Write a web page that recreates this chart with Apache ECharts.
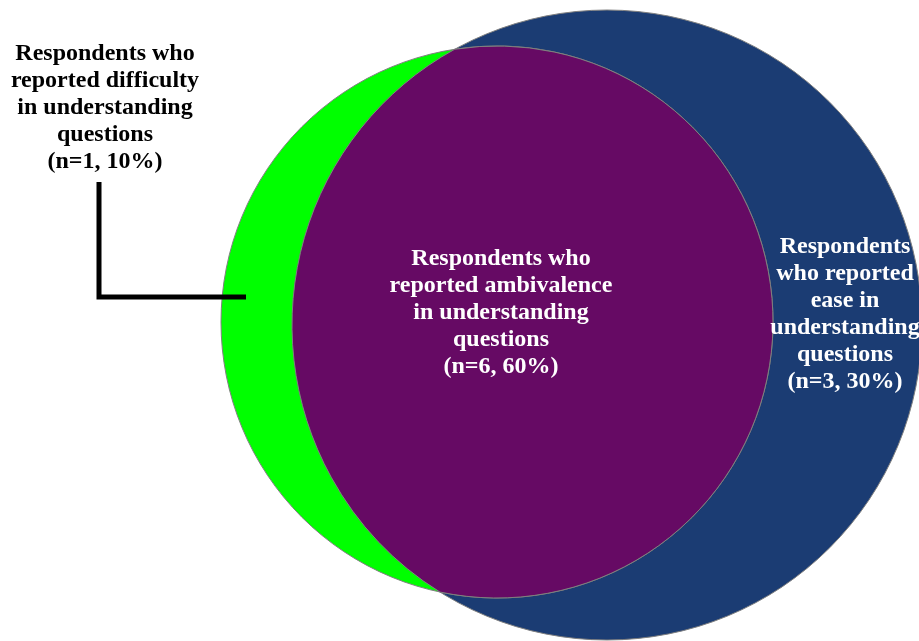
<!DOCTYPE html>
<html>
<head>
<meta charset="utf-8">
<script src="https://cdn.jsdelivr.net/npm/echarts@6/dist/echarts.min.js"></script>
<style>
  html, body { margin: 0; padding: 0; background: #ffffff; }
  #chart { width: 919px; height: 641px; }
</style>
</head>
<body>
<div id="chart"></div>
<script>
// Respondent groups: difficulty only, ambivalence (overlap), ease only
const groups = ['difficulty', 'ambivalence', 'ease'];
const counts = [1, 6, 3];
const shares = [10, 60, 30];
const labelLines = [
  ['Respondents who', 'reported difficulty', 'in understanding', 'questions'],
  ['Respondents who', 'reported ambivalence', 'in understanding', 'questions'],
  ['Respondents', 'who reported', 'ease in', 'understanding', 'questions']
];

// Diagram geometry in axis units (x: 0..919, y: 0..641, y downwards)
const layout = {
  difficultyCircle: { cx: 497, cy: 322, r: 276 },
  easeCircle: { cx: 607, cy: 325, r: 315 },
  labelAnchors: [[105, 108], [501, 313], [845, 314]],
  leader: [[99, 182], [99, 297], [246, 297]]
};

const colors = {
  difficulty: '#00ff00',
  ambivalence: '#660a64',
  ease: '#1b3c73',
  outline: '#808080',
  leader: '#000000'
};

function labelText(i) {
  return labelLines[i].concat('(n=' + counts[i] + ', ' + shares[i] + '%)').join('\n');
}

function renderItem(params, api) {
  const toPx = (p) => api.coord(p);
  const c1 = layout.difficultyCircle, c2 = layout.easeCircle;
  const p1 = toPx([c1.cx, c1.cy]);
  const p2 = toPx([c2.cx, c2.cy]);
  const r1 = api.size([c1.r, 0])[0];
  const r2 = api.size([c2.r, 0])[0];

  // intersection points of the two circles
  const dx = p2[0] - p1[0], dy = p2[1] - p1[1];
  const d = Math.sqrt(dx * dx + dy * dy);
  const a = (r1 * r1 - r2 * r2 + d * d) / (2 * d);
  const h = Math.sqrt(r1 * r1 - a * a);
  const mx = p1[0] + a * dx / d, my = p1[1] + a * dy / d;
  const ix1 = [mx + h * dy / d, my - h * dx / d];
  const ix2 = [mx - h * dy / d, my + h * dx / d];
  const top = ix1[1] < ix2[1] ? ix1 : ix2;
  const bottom = ix1[1] < ix2[1] ? ix2 : ix1;

  // lens: ease-circle arc on the left, difficulty-circle arc on the right
  const lens = 'M' + top[0] + ' ' + top[1] +
    ' A' + r2 + ' ' + r2 + ' 0 0 0 ' + bottom[0] + ' ' + bottom[1] +
    ' A' + r1 + ' ' + r1 + ' 0 1 0 ' + top[0] + ' ' + top[1] + ' Z';

  const textStyle = (i, fill) => {
    const pos = toPx(layout.labelAnchors[i]);
    return {
      type: 'text',
      x: pos[0],
      y: pos[1],
      style: {
        text: labelText(i),
        fill: fill,
        fontFamily: 'Liberation Serif',
        fontWeight: 'bold',
        fontSize: 24,
        lineHeight: 27,
        align: 'center',
        verticalAlign: 'middle'
      }
    };
  };

  const leaderPts = layout.leader.map(toPx);

  return {
    type: 'group',
    children: [
      {
        type: 'circle',
        shape: { cx: p2[0], cy: p2[1], r: r2 },
        style: { fill: colors.ease, stroke: colors.outline, lineWidth: 1 }
      },
      {
        type: 'circle',
        shape: { cx: p1[0], cy: p1[1], r: r1 },
        style: { fill: colors.difficulty, stroke: colors.outline, lineWidth: 1 }
      },
      {
        type: 'path',
        shape: { pathData: lens },
        style: { fill: colors.ambivalence, stroke: colors.outline, lineWidth: 1 }
      },
      {
        type: 'polyline',
        shape: { points: leaderPts },
        style: { stroke: colors.leader, lineWidth: 5, fill: null, lineJoin: 'miter' }
      },
      textStyle(0, '#000000'),
      textStyle(1, '#ffffff'),
      textStyle(2, '#ffffff')
    ]
  };
}

const chart = echarts.init(document.getElementById('chart'), null, { renderer: 'canvas' });
chart.setOption({
  animation: false,
  backgroundColor: '#ffffff',
  grid: { left: 0, right: 0, top: 0, bottom: 0 },
  xAxis: { type: 'value', min: 0, max: 919, show: false },
  yAxis: { type: 'value', min: 0, max: 641, inverse: true, show: false },
  series: [{
    type: 'custom',
    name: groups.join(' / '),
    coordinateSystem: 'cartesian2d',
    clip: false,
    data: [[0, 0]],
    renderItem: renderItem
  }]
});
</script>
</body>
</html>
